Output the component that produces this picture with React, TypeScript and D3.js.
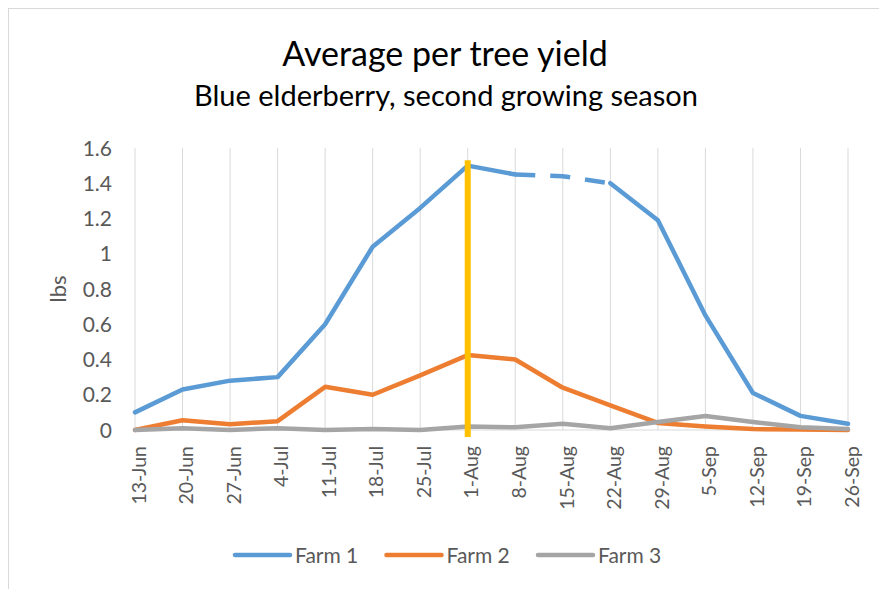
import React from 'react';
import * as d3 from 'd3';

const weeks = [
  '13-Jun', '20-Jun', '27-Jun', '4-Jul', '11-Jul', '18-Jul', '25-Jul', '1-Aug',
  '8-Aug', '15-Aug', '22-Aug', '29-Aug', '5-Sep', '12-Sep', '19-Sep', '26-Sep',
];

const farm1 = [0.1, 0.23, 0.28, 0.3, 0.6, 1.04, 1.26, 1.5, 1.45, 1.44, 1.4, 1.19, 0.65, 0.21, 0.08, 0.035];
const farm2 = [0, 0.055, 0.033, 0.05, 0.245, 0.2, 0.31, 0.425, 0.4, 0.24, 0.14, 0.04, 0.02, 0.005, 0.003, 0];
const farm3 = [0, 0.01, 0, 0.01, 0, 0.005, 0, 0.02, 0.015, 0.035, 0.01, 0.045, 0.08, 0.045, 0.015, 0.005];

// Farm 1 is drawn dashed between these two weeks
const dashedFrom = '8-Aug';
const dashedTo = '22-Aug';

// harvest marker
const markerWeek = '1-Aug';
const markerTop = 1.53;

const yTicks = [0, 0.2, 0.4, 0.6, 0.8, 1, 1.2, 1.4, 1.6];

const seriesNames = ['Farm 1', 'Farm 2', 'Farm 3'];
const seriesColors = ['#5B9BD5', '#ED7D31', '#A5A5A5'];

const FONT = 'Lato, "Open Sans", sans-serif';

export default function App() {
  const x = d3.scalePoint<string>().domain(weeks).range([135, 848]);
  const y = d3.scaleLinear().domain([0, 1.6]).range([430, 148]);

  const line = d3
    .line<[string, number]>()
    .x((d) => x(d[0]) as number)
    .y((d) => y(d[1]));

  const pairs = (vals: number[]) => weeks.map((w, i) => [w, vals[i]] as [string, number]);

  const f1 = pairs(farm1);
  const iFrom = weeks.indexOf(dashedFrom);
  const iTo = weeks.indexOf(dashedTo);

  const lineWidth = 4.5;

  return (
    <svg
      width={879}
      height={589}
      style={{ position: 'absolute', left: 0, top: 0, background: '#fff' }}
      fontFamily={FONT}
    >
      <rect x={8.5} y={8.5} width={1000} height={1000} fill="#fff" stroke="#D9D9D9" />

      <text x={445} y={66} textAnchor="middle" fontSize={34} fill="#000">
        Average per tree yield
      </text>
      <text x={446} y={106} textAnchor="middle" fontSize={29} fill="#000">
        Blue elderberry, second growing season
      </text>

      {/* vertical gridlines */}
      {weeks.map((w) => (
        <line key={w} x1={x(w)} x2={x(w)} y1={y(1.6)} y2={y(0)} stroke="#D9D9D9" strokeWidth={1} />
      ))}
      <line x1={x(weeks[0])} x2={x(weeks[weeks.length - 1])} y1={y(0)} y2={y(0)} stroke="#D9D9D9" strokeWidth={1} />

      {/* y ticks */}
      {yTicks.map((t) => (
        <text key={t} x={112} y={y(t)} dy="0.36em" textAnchor="end" fontSize={21} fill="#595959">
          {String(t)}
        </text>
      ))}
      <text
        transform={`translate(58, ${(y(0) + y(1.6)) / 2}) rotate(-90)`}
        dy="0.36em"
        textAnchor="middle"
        fontSize={22}
        fill="#595959"
      >
        lbs
      </text>

      {/* x ticks */}
      {weeks.map((w) => (
        <text
          key={w}
          transform={`translate(${x(w)}, ${y(0) + 16}) rotate(-90)`}
          dy="0.55em"
          textAnchor="end"
          fontSize={19.5}
          fill="#595959"
        >
          {w}
        </text>
      ))}

      {/* Farm 1 */}
      <path d={line(f1.slice(0, iFrom + 1)) || ''} fill="none" stroke={seriesColors[0]} strokeWidth={lineWidth} strokeLinejoin="round" strokeLinecap="round" />
      <path d={line(f1.slice(iFrom, iTo + 1)) || ''} fill="none" stroke={seriesColors[0]} strokeWidth={lineWidth} strokeDasharray="20,15" />
      <path d={line(f1.slice(iTo)) || ''} fill="none" stroke={seriesColors[0]} strokeWidth={lineWidth} strokeLinejoin="round" strokeLinecap="round" />

      <path d={line(pairs(farm2)) || ''} fill="none" stroke={seriesColors[1]} strokeWidth={lineWidth} strokeLinejoin="round" strokeLinecap="round" />
      <path d={line(pairs(farm3)) || ''} fill="none" stroke={seriesColors[2]} strokeWidth={lineWidth} strokeLinejoin="round" strokeLinecap="round" />

      {/* marker */}
      <line
        x1={x(markerWeek)}
        x2={x(markerWeek)}
        y1={y(markerTop)}
        y2={y(0) + 7}
        stroke="#FFC000"
        strokeWidth={6}
      />

      {/* legend */}
      {seriesNames.map((name, i) => (
        <g key={name} transform={`translate(${235 + i * 151.5}, 555)`}>
          <line x1={0} x2={55} y1={0} y2={0} stroke={seriesColors[i]} strokeWidth={lineWidth} strokeLinecap="round" />
          <text x={60} y={0} dy="0.36em" fontSize={21} fill="#595959">
            {name}
          </text>
        </g>
      ))}
    </svg>
  );
}
